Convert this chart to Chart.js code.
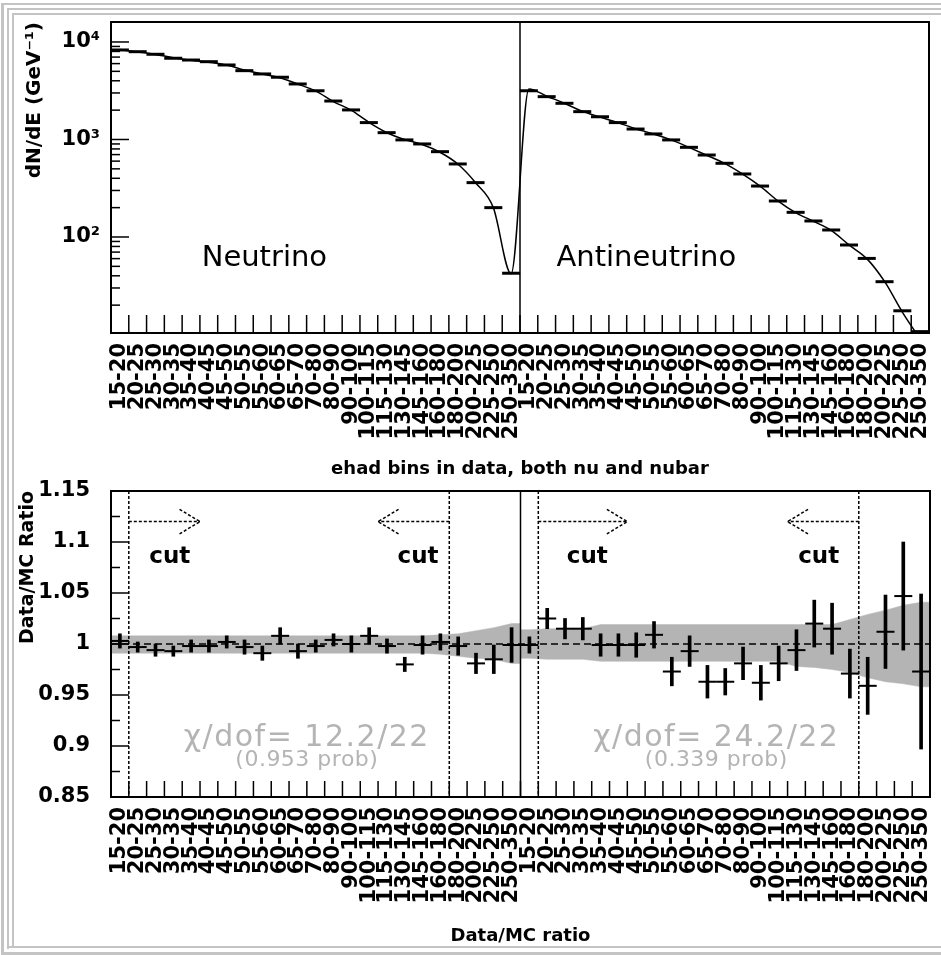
<!DOCTYPE html>
<html>
<head>
<meta charset="utf-8">
<title>ehad bins in data, both nu and nubar</title>
<script src="https://cdn.jsdelivr.net/npm/chart.js@4.4.1/dist/chart.umd.min.js"></script>
<style>
html, body { margin: 0; background: #fff; overflow: hidden; }
#page { position: relative; width: 941px; height: 955px; overflow: hidden; background: #fff; }
.rule { position: absolute; background: #c4c4c4; }
canvas { position: absolute; left: 0; }
#spectrum { top: 0; }
#ratio { top: 480px; }
</style>
</head>
<body>
<div id="page">
  <div class="rule" style="left:1px;top:3px;width:3px;height:952px"></div>
  <div class="rule" style="left:1px;top:3px;width:940px;height:2px"></div>
  <div class="rule" style="left:7px;top:8px;width:2px;height:941px"></div>
  <div class="rule" style="left:7px;top:8px;width:934px;height:2px"></div>
  <div class="rule" style="left:12px;top:13px;width:2px;height:934px"></div>
  <div class="rule" style="left:12px;top:13px;width:929px;height:2px"></div>
  <div class="rule" style="left:7px;top:946px;width:934px;height:2px"></div>
  <div class="rule" style="left:1px;top:952px;width:940px;height:3px"></div>
  <canvas id="spectrum" width="941" height="480"></canvas>
  <canvas id="ratio" width="941" height="475"></canvas>
</div>
<script>
// ehad bins (GeV), same binning for nu and nubar
var binLabels = ['15-20','20-25','25-30','30-35','35-40','40-45','45-50','50-55','55-60','60-65','65-70',
    '70-80','80-90','90-100','100-115','115-130','130-145','145-160','160-180','180-200','200-225','225-250','250-350'];
var xLabels = binLabels.concat(binLabels);

// dN/dE (GeV^-1), data
var nuData = [8280, 7950, 7480, 6810, 6530, 6280, 5810, 5080, 4700, 4350, 3710, 3160,
    2480, 2010, 1490, 1175, 990, 900, 750, 561, 361, 200, 42.5];
var nubarData = [3160, 2750, 2350, 1930, 1710, 1490, 1280, 1140, 990, 831, 693, 570,
    443, 333, 234, 179, 146, 118, 82.8, 60.3, 34.8, 17.5, 10.7];
// dN/dE, MC
var nuMC = [8350, 7900, 7450, 6900, 6500, 6200, 5800, 5150, 4700, 4300, 3700, 3150,
    2450, 2000, 1500, 1180, 1000, 890, 740, 560, 360, 200, 42];
var nubarMC = [3300, 2780, 2350, 1950, 1700, 1490, 1290, 1140, 990, 830, 690, 570,
    445, 333, 235, 178, 145, 117, 83, 60, 35, 17, 9];

// Data/MC ratio
var nuRatio = [1.003, 0.997, 0.994, 0.993, 0.998, 0.998, 1.002, 0.997, 0.991, 1.008, 0.993, 0.998,
    1.004, 1.000, 1.008, 0.998, 0.980, 0.999, 1.002, 0.998, 0.981, 0.985, 0.999];
var nuRatioErr = [0.007, 0.005, 0.006, 0.005, 0.006, 0.006, 0.006, 0.007, 0.007, 0.008, 0.007, 0.006,
    0.006, 0.008, 0.008, 0.007, 0.007, 0.009, 0.008, 0.009, 0.010, 0.014, 0.017];
var nubarRatio = [0.999, 1.025, 1.015, 1.015, 0.999, 0.999, 0.999, 1.009, 0.973, 0.993, 0.963, 0.963,
    0.981, 0.962, 0.981, 0.994, 1.020, 1.015, 0.971, 0.959, 1.012, 1.047, 0.973];
var nubarRatioErr = [0.008, 0.010, 0.010, 0.011, 0.011, 0.011, 0.012, 0.013, 0.014, 0.015, 0.016, 0.013,
    0.016, 0.017, 0.017, 0.020, 0.023, 0.025, 0.024, 0.028, 0.036, 0.053, 0.076];

// MC error band
var nuBandHi = [1.008, 1.008, 1.008, 1.008, 1.008, 1.008, 1.008, 1.008, 1.008, 1.008, 1.008, 1.008,
    1.008, 1.008, 1.008, 1.008, 1.008, 1.008, 1.009, 1.010, 1.013, 1.016, 1.020];
var nuBandLo = [0.991, 0.991, 0.991, 0.991, 0.991, 0.991, 0.991, 0.991, 0.991, 0.991, 0.991, 0.991,
    0.991, 0.991, 0.991, 0.991, 0.991, 0.991, 0.990, 0.988, 0.986, 0.985, 0.981];
var nubarBandHi = [1.014, 1.015, 1.015, 1.015, 1.019, 1.019, 1.019, 1.019, 1.019, 1.019, 1.019, 1.019,
    1.019, 1.019, 1.019, 1.019, 1.019, 1.019, 1.024, 1.029, 1.033, 1.038, 1.041];
var nubarBandLo = [0.986, 0.985, 0.985, 0.985, 0.983, 0.983, 0.983, 0.983, 0.983, 0.983, 0.983, 0.983,
    0.983, 0.983, 0.983, 0.978, 0.977, 0.975, 0.972, 0.967, 0.963, 0.961, 0.958];

var spectrumTicks = [100, 1000, 10000];
var spectrumTickLabels = ['10²', '10³', '10⁴'];
var ratioTicks = [0.85, 0.9, 0.95, 1, 1.05, 1.1, 1.15];
var ratioTickLabels = ['0.85', '0.9', '0.95', '1', '1.05', '1.1', '1.15'];

var cutEdges = [1, 19, 24, 42];
var cutArrows = [[1, 5], [19, 15], [24, 29], [42, 38]];
var chiTexts = ['χ/dof= 12.2/22', 'χ/dof= 24.2/22'];
var probTexts = ['(0.953 prob)', '(0.339 prob)'];

Chart.defaults.font.family = 'DejaVu Sans';
Chart.defaults.color = '#000';

function centers(vals, first) {
    return vals.map(function (v, i) { return { x: first + i + 0.5, y: v }; });
}
function bandPoints(vals, first) {
    var p = centers(vals, first);
    p.unshift({ x: first, y: vals[0] });
    p.push({ x: first + vals.length, y: vals[vals.length - 1] });
    return p;
}
function errBars(vals, errs, first) {
    return vals.map(function (v, i) { return { x: first + i + 0.5, y: [v - errs[i], v + errs[i]] }; });
}

function binAxis(title, axisHeight, titlePad) {
    return {
        type: 'linear', min: 0, max: 46, offset: false,
        grid: { display: false, drawTicks: false }, border: { display: false },
        afterBuildTicks: function (s) {
            s.ticks = xLabels.map(function (l, i) { return { value: i + 0.5 }; });
        },
        afterFit: function (s) { s.height = axisHeight; s.paddingLeft = 0; s.paddingRight = 0; },
        ticks: {
            autoSkip: false, minRotation: 90, maxRotation: 90, padding: 10,
            font: { size: 21, weight: 'bold' },
            callback: function (v, i) { return xLabels[i]; }
        },
        title: { display: true, text: title, font: { size: 18, weight: 'bold' }, padding: { top: 0, bottom: titlePad } }
    };
}

function line(ctx, x1, y1, x2, y2) {
    ctx.beginPath(); ctx.moveTo(x1, y1); ctx.lineTo(x2, y2); ctx.stroke();
}

// ROOT-like frame: inward ticks, divider, cut lines, arrows, text
var rootFrame = {
    id: 'rootFrame',
    afterDatasetsDraw: function (chart, args, o) {
        var ctx = chart.ctx, a = chart.chartArea, xs = chart.scales.x, ys = chart.scales.y;
        ctx.save();
        ctx.strokeStyle = '#000';
        ctx.lineWidth = 1.5;
        if (o.cuts) {
            ctx.setLineDash([3, 2]);
            cutEdges.forEach(function (e) {
                var px = xs.getPixelForValue(e);
                line(ctx, px, a.top, px, a.bottom);
            });
            cutArrows.forEach(function (c) {
                var dir = c[1] > c[0] ? 1 : -1, back = c[1] - dir * 1.15;
                var py = ys.getPixelForValue(1.12), tip = xs.getPixelForValue(c[1]);
                line(ctx, xs.getPixelForValue(c[0]), py, tip, py);
                line(ctx, xs.getPixelForValue(back), ys.getPixelForValue(1.132), tip, py);
                line(ctx, xs.getPixelForValue(back), ys.getPixelForValue(1.108), tip, py);
            });
            ctx.setLineDash([]);
        }
        o.yMajor.forEach(function (v) {
            var py = ys.getPixelForValue(v);
            line(ctx, a.left, py, a.left + 18, py);
        });
        o.yMinor.forEach(function (v) {
            var py = ys.getPixelForValue(v);
            line(ctx, a.left, py, a.left + 9, py);
        });
        for (var e = 1; e < 46; e++) {
            var px = xs.getPixelForValue(e);
            line(ctx, px, a.bottom, px, a.bottom - o.xTickLen);
        }
        var mid = xs.getPixelForValue(23);
        line(ctx, mid, a.top, mid, a.bottom);
        ctx.lineWidth = 2;
        ctx.strokeRect(a.left, a.top, a.right - a.left, a.bottom - a.top);
        o.labels.forEach(function (t) {
            ctx.font = t.font;
            ctx.fillStyle = t.color || '#000';
            ctx.textAlign = t.align;
            ctx.textBaseline = t.baseline || 'alphabetic';
            ctx.letterSpacing = t.spacing || '0px';
            ctx.fillText(t.text, xs.getPixelForValue(t.x), ys.getPixelForValue(t.y));
        });
        ctx.letterSpacing = '0px';
        ctx.restore();
    }
};

var logMinor = [];
[10, 100, 1000].forEach(function (d) {
    for (var m = 2; m <= 9; m++) logMinor.push(m * d);
});
var ratioMinor = [];
for (var k = 0; k < ratioTicks.length - 1; k++) ratioMinor.push((ratioTicks[k] + ratioTicks[k + 1]) / 2);

var spectrumChart = new Chart(document.getElementById('spectrum').getContext('2d'), {
    type: 'line',
    data: {
        datasets: [
            {
                label: 'Data',
                data: centers(nuData, 0).concat(centers(nubarData, 23)),
                showLine: false, pointStyle: 'line', pointRadius: 9,
                pointBorderWidth: 3, pointBorderColor: '#000', order: 1
            },
            {
                label: 'MC',
                data: centers(nuMC, 0).concat(centers(nubarMC, 23)),
                borderColor: '#000', borderWidth: 1.5, pointRadius: 0,
                cubicInterpolationMode: 'monotone', order: 2
            }
        ]
    },
    options: {
        responsive: false, animation: false, events: [],
        layout: { padding: { left: 17, top: 22, right: 2, bottom: 0 } },
        scales: {
            x: binAxis('ehad bins in data, both nu and nubar', 147, 0),
            y: {
                type: 'logarithmic', min: 10.36, max: 16030,
                grid: { display: false, drawTicks: false }, border: { display: false },
                afterBuildTicks: function (s) {
                    s.ticks = spectrumTicks.map(function (v) { return { value: v }; });
                },
                afterFit: function (s) { s.width = 94; s.paddingTop = 0; s.paddingBottom = 0; },
                ticks: {
                    padding: 11, font: { size: 21, weight: 'bold' },
                    callback: function (v, i) { return spectrumTickLabels[i]; }
                },
                title: { display: true, text: 'dN/dE (GeV⁻¹)', align: 'end', font: { size: 20, weight: 'bold' }, padding: { top: 6, bottom: 0 } }
            }
        },
        plugins: {
            legend: { display: false }, tooltip: { enabled: false },
            rootFrame: {
                cuts: false, xTickLen: 18,
                yMajor: spectrumTicks, yMinor: logMinor,
                labels: [
                    { text: 'Neutrino', x: 5.1, y: 50, align: 'left', font: '29px "DejaVu Sans"' },
                    { text: 'Antineutrino', x: 25.05, y: 50, align: 'left', font: '29px "DejaVu Sans"' }
                ]
            }
        }
    },
    plugins: [rootFrame]
});

var ratioChart = new Chart(document.getElementById('ratio').getContext('2d'), {
    type: 'line',
    data: {
        datasets: [
            { data: bandPoints(nuBandHi, 0), borderColor: '#b4b4b4', borderWidth: 0.5, pointRadius: 0, fill: false, order: 10 },
            { data: bandPoints(nuBandLo, 0), borderColor: '#b4b4b4', borderWidth: 0.5, pointRadius: 0, fill: '-1', backgroundColor: '#b4b4b4', order: 10 },
            { data: bandPoints(nubarBandHi, 23), borderColor: '#b4b4b4', borderWidth: 0.5, pointRadius: 0, fill: false, order: 10 },
            { data: bandPoints(nubarBandLo, 23), borderColor: '#b4b4b4', borderWidth: 0.5, pointRadius: 0, fill: '-1', backgroundColor: '#b4b4b4', order: 10 },
            {
                data: [{ x: 0, y: 1 }, { x: 46, y: 1 }],
                borderColor: '#000', borderWidth: 1.5, borderDash: [7, 4], pointRadius: 0, order: 5
            },
            {
                type: 'bar',
                data: errBars(nuRatio, nuRatioErr, 0).concat(errBars(nubarRatio, nubarRatioErr, 23)),
                backgroundColor: '#000', borderWidth: 0, barThickness: 3, order: 2
            },
            {
                data: centers(nuRatio, 0).concat(centers(nubarRatio, 23)),
                showLine: false, pointStyle: 'line', pointRadius: 9,
                pointBorderWidth: 2, pointBorderColor: '#000', order: 1
            }
        ]
    },
    options: {
        responsive: false, animation: false, events: [],
        layout: { padding: { left: 17, top: 8, right: 2, bottom: 0 } },
        scales: {
            x: binAxis('Data/MC ratio', 158, 8),
            y: {
                type: 'linear', min: 0.85, max: 1.15,
                grid: { display: false, drawTicks: false }, border: { display: false },
                afterBuildTicks: function (s) {
                    s.ticks = ratioTicks.map(function (v) { return { value: v }; });
                },
                afterFit: function (s) { s.width = 94; s.paddingTop = 0; s.paddingBottom = 0; },
                ticks: {
                    padding: 21, font: { size: 21, weight: 'bold' },
                    callback: function (v, i) { return ratioTickLabels[i]; }
                },
                title: { display: true, text: 'Data/MC Ratio', align: 'end', font: { size: 19, weight: 'bold' }, padding: { top: 0, bottom: 0 } }
            }
        },
        plugins: {
            legend: { display: false }, tooltip: { enabled: false },
            rootFrame: {
                cuts: true, xTickLen: 16,
                yMajor: ratioTicks, yMinor: ratioMinor,
                labels: [
                    { text: 'cut', x: 2.15, y: 1.079, align: 'left', font: 'bold 23px "DejaVu Sans"' },
                    { text: 'cut', x: 18.4, y: 1.079, align: 'right', font: 'bold 23px "DejaVu Sans"' },
                    { text: 'cut', x: 25.6, y: 1.079, align: 'left', font: 'bold 23px "DejaVu Sans"' },
                    { text: 'cut', x: 40.9, y: 1.079, align: 'right', font: 'bold 23px "DejaVu Sans"' },
                    { text: chiTexts[0], x: 11, y: 0.908, align: 'center', baseline: 'middle', color: '#b4b4b4', spacing: '1.5px', font: '30px "DejaVu Sans"' },
                    { text: chiTexts[1], x: 34, y: 0.908, align: 'center', baseline: 'middle', color: '#b4b4b4', spacing: '1.5px', font: '30px "DejaVu Sans"' },
                    { text: probTexts[0], x: 11, y: 0.886, align: 'center', baseline: 'middle', color: '#b4b4b4', spacing: '0.5px', font: '22px "DejaVu Sans"' },
                    { text: probTexts[1], x: 34, y: 0.886, align: 'center', baseline: 'middle', color: '#b4b4b4', spacing: '0.5px', font: '22px "DejaVu Sans"' }
                ]
            }
        }
    },
    plugins: [rootFrame]
});
</script>
</body>
</html>
